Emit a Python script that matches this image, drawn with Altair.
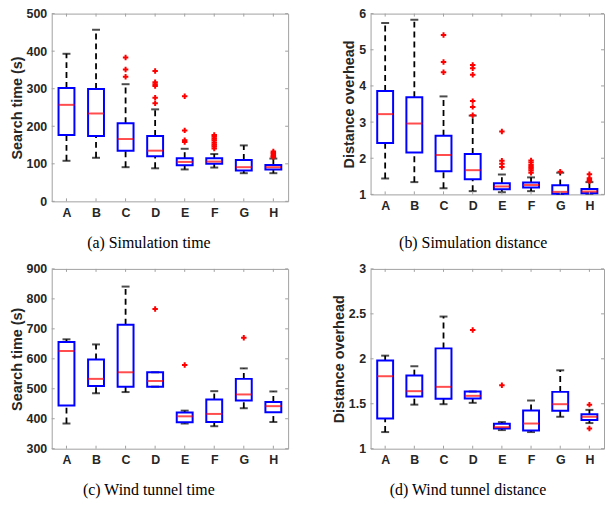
import altair as alt
import pandas as pd

cats = ["A", "B", "C", "D", "E", "F", "G", "H"]

# (a) Simulation time
a_lo = [108, 116, 91, 88, 85, 90, 75, 75]
a_q1 = [177, 174, 135, 120, 96, 100, 82, 85]
a_med = [257, 234, 166, 135, 105, 106, 91, 91]
a_q3 = [302, 299, 208, 174, 115, 115, 110, 97]
a_hi = [393, 457, 312, 245, 140, 126, 149, 114]
a_out_cat = ["C", "C", "C", "D", "D", "D", "D", "D", "D", "E", "E", "E", "E",
             "F", "F", "F", "F", "F", "F", "F", "F", "H", "H", "H", "H", "H"]
a_out_val = [383, 351, 332, 347, 317, 312, 307, 276, 261, 280, 189, 163, 158,
             177, 172, 167, 162, 156, 151, 146, 141, 133, 129, 125, 121, 118]

# (b) Simulation distance
b_lo = [1.44, 1.34, 1.17, 1.09, 1.06, 1.09, 1.01, 1.02]
b_q1 = [2.42, 2.16, 1.64, 1.42, 1.14, 1.19, 1.02, 1.03]
b_med = [3.22, 2.96, 2.09, 1.67, 1.22, 1.26, 1.07, 1.08]
b_q3 = [3.86, 3.69, 2.62, 2.12, 1.31, 1.33, 1.25, 1.15]
b_hi = [5.74, 5.83, 3.71, 3.18, 1.55, 1.47, 1.60, 1.34]
b_out_cat = ["C", "C", "C", "D", "D", "D", "D", "D", "D", "E", "E", "E", "E",
             "F", "F", "F", "F", "F", "F", "F", "G", "H", "H", "H", "H"]
b_out_val = [5.41, 4.66, 4.38, 4.58, 4.49, 4.31, 3.58, 3.42, 3.19, 2.74, 1.93, 1.85, 1.76,
             1.94, 1.88, 1.81, 1.76, 1.71, 1.66, 1.60, 1.63, 1.56, 1.45, 1.40, 1.36]

# (c) Wind tunnel time
c_lo = [384, 485, 489, 507, 384, 375, 435, 389]
c_q1 = [444, 509, 507, 507, 388, 389, 461, 422]
c_med = [626, 533, 555, 526, 408, 416, 481, 442]
c_q3 = [656, 598, 714, 555, 421, 464, 533, 456]
c_hi = [665, 648, 841, 555, 427, 492, 568, 491]
c_out_cat = ["D", "E", "G"]
c_out_val = [766, 579, 670]

# (d) Wind tunnel distance
d_lo = [1.185, 1.49, 1.495, 1.51, 1.207, 1.185, 1.355, 1.285]
d_q1 = [1.336, 1.58, 1.555, 1.558, 1.225, 1.203, 1.421, 1.32]
d_med = [1.806, 1.64, 1.688, 1.588, 1.24, 1.28, 1.495, 1.355]
d_q3 = [1.98, 1.813, 2.116, 1.636, 1.277, 1.425, 1.632, 1.384]
d_hi = [2.035, 1.917, 2.47, 1.636, 1.296, 1.536, 1.872, 1.432]
d_out_cat = ["D", "E", "H", "H"]
d_out_val = [2.32, 1.706, 1.49, 1.225]

BORDER = "#a0a0a0"
PLUS = "M-1,0H1M0,-1V1"


def panel(lo, q1, med, q3, hi, ocat, oval, domain, ticks, ytitle, caption,
          width, height, cap_offset):
    df = pd.DataFrame({"cat": cats, "lo": lo, "q1": q1, "med": med, "q3": q3, "hi": hi})
    od = pd.DataFrame({"cat": ocat, "v": oval})
    td = pd.DataFrame({"t": ticks})
    cd = pd.DataFrame({"cat": cats})

    xscale = alt.Scale(type="point", padding=0.5, domain=cats)
    xaxis = alt.Axis(labelAngle=0, ticks=False, domain=False, grid=False,
                     labelPadding=5, title=None)
    yscale = alt.Scale(domain=domain, nice=False, zero=False)
    yaxis = alt.Axis(values=ticks, labelExpr="datum.value + ''", ticks=False,
                     domain=False, grid=False, labelPadding=5, titlePadding=2,
                     labelFlush=False, labelOverlap=False)

    def X():
        return alt.X("cat:N", scale=xscale, axis=xaxis, title=None)

    def Y(f):
        return alt.Y(f + ":Q", scale=yscale, axis=yaxis, title=ytitle)

    base = alt.Chart(df)
    w_up = base.mark_rule(color="black", strokeWidth=1.8, strokeDash=[6, 4]).encode(
        x=X(), y=Y("q3"), y2="hi")
    w_dn = base.mark_rule(color="black", strokeWidth=1.8, strokeDash=[6, 4]).encode(
        x=X(), y=Y("lo"), y2="q1")
    cap_hi = base.mark_tick(color="black", size=8, thickness=2).encode(x=X(), y=Y("hi"))
    cap_lo = base.mark_tick(color="black", size=8, thickness=2).encode(x=X(), y=Y("lo"))
    box = base.mark_bar(fill="white", fillOpacity=0, stroke="#0000ff", strokeWidth=2,
                        size=16).encode(x=X(), y=Y("q1"), y2="q3")
    medl = base.mark_tick(color="#ff0000", size=16, thickness=2).encode(x=X(), y=Y("med"))
    outl = alt.Chart(od).mark_point(shape=PLUS, filled=False, stroke="#ff0000",
                                    strokeWidth=2, size=30, opacity=1).encode(
        x=X(), y=Y("v"))

    xt_top = alt.Chart(cd).mark_rule(color=BORDER, strokeWidth=1).encode(
        x=X(), y=alt.value(0), y2=alt.value(3))
    xt_bot = alt.Chart(cd).mark_rule(color=BORDER, strokeWidth=1).encode(
        x=X(), y=alt.value(height), y2=alt.value(height - 3))
    yt_l = alt.Chart(td).mark_rule(color=BORDER, strokeWidth=1).encode(
        y=Y("t"), x=alt.value(0), x2=alt.value(3))
    yt_r = alt.Chart(td).mark_rule(color=BORDER, strokeWidth=1).encode(
        y=Y("t"), x=alt.value(width - 3), x2=alt.value(width))

    return alt.layer(w_up, w_dn, cap_hi, cap_lo, box, medl, outl,
                     xt_top, xt_bot, yt_l, yt_r).properties(
        width=width, height=height,
        title=alt.TitleParams(caption, orient="bottom", anchor="middle",
                              frame="bounds", offset=cap_offset))


pa = panel(a_lo, a_q1, a_med, a_q3, a_hi, a_out_cat, a_out_val, [0, 500],
           [0, 100, 200, 300, 400, 500], "Search time (s)", "(a) Simulation time",
           238, 189, 16)
pb = panel(b_lo, b_q1, b_med, b_q3, b_hi, b_out_cat, b_out_val, [1, 6],
           [1, 2, 3, 4, 5, 6], "Distance overhead", "(b) Simulation distance",
           235, 182, 23)
pc = panel(c_lo, c_q1, c_med, c_q3, c_hi, c_out_cat, c_out_val, [300, 900],
           [300, 400, 500, 600, 700, 800, 900], "Search time (s)", "(c) Wind tunnel time",
           238, 181, 16)
pd_ = panel(d_lo, d_q1, d_med, d_q3, d_hi, d_out_cat, d_out_val, [1, 3],
            [1, 1.5, 2, 2.5, 3], "Distance overhead", "(d) Wind tunnel distance",
            235, 181, 16)

left = alt.vconcat(pa, pc, spacing=11)
right = alt.vconcat(pb, pd_, spacing=11)

chart = alt.hconcat(left, right, spacing=42).properties(
    padding={"left": 0, "top": -3, "right": 0, "bottom": 0}
).configure_view(
    stroke=BORDER, strokeWidth=1
).configure_axis(
    labelFont="Liberation Sans", labelFontWeight="bold", labelFontSize=12.5,
    labelColor="#262626", titleFont="Liberation Sans", titleFontWeight="bold",
    titleFontSize=14.5, titleColor="#262626"
).configure_title(
    font="Liberation Serif", fontSize=16, fontWeight="normal", color="black"
)

chart.save("out.html", embed_options={"renderer": "svg", "actions": False})
